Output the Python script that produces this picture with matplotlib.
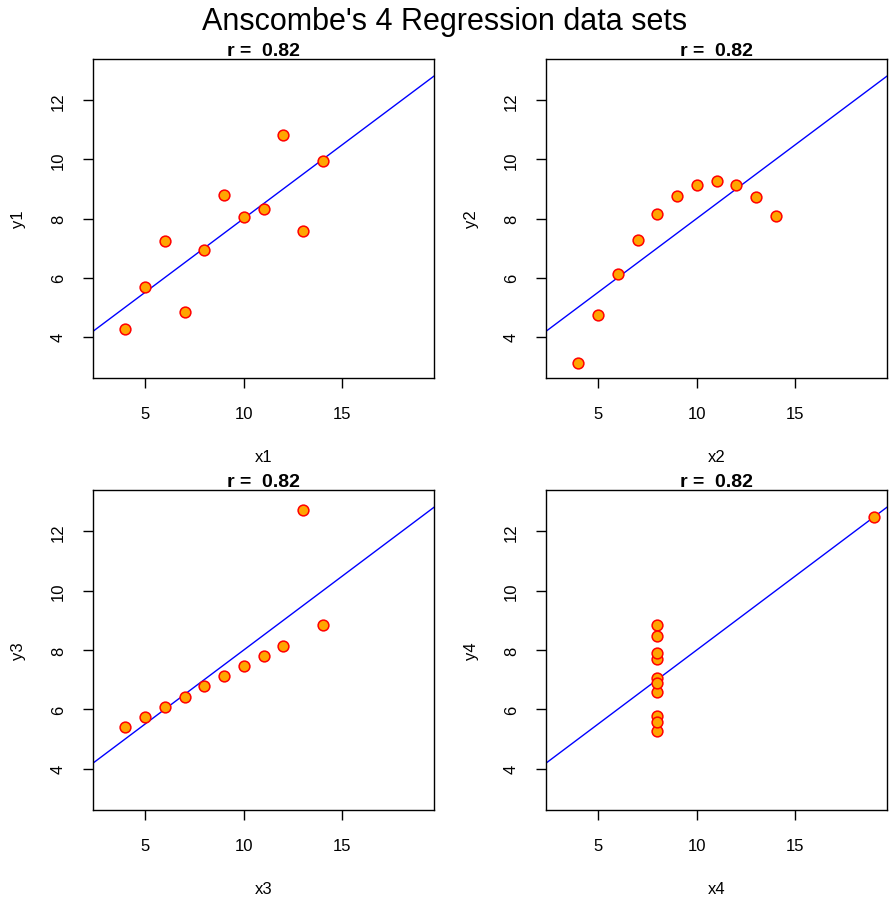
import numpy as np
import matplotlib
matplotlib.use("Agg")
import matplotlib.pyplot as plt

plt.rcParams['font.family'] = ['Liberation Sans', 'DejaVu Sans']

# Anscombe's quartet
x1 = [10, 8, 13, 9, 11, 14, 6, 4, 12, 7, 5]
x2 = [10, 8, 13, 9, 11, 14, 6, 4, 12, 7, 5]
x3 = [10, 8, 13, 9, 11, 14, 6, 4, 12, 7, 5]
x4 = [8, 8, 8, 8, 8, 8, 8, 19, 8, 8, 8]
y1 = [8.04, 6.95, 7.58, 8.81, 8.33, 9.96, 7.24, 4.26, 10.84, 4.82, 5.68]
y2 = [9.14, 8.14, 8.74, 8.77, 9.26, 8.10, 6.13, 3.10, 9.13, 7.26, 4.74]
y3 = [7.46, 6.77, 12.74, 7.11, 7.81, 8.84, 6.08, 5.39, 8.15, 6.42, 5.73]
y4 = [6.58, 5.76, 7.71, 8.84, 8.47, 7.04, 5.25, 12.50, 5.56, 7.91, 6.89]

xs = [x1, x2, x3, x4]
ys = [y1, y2, y3, y4]
xnames = ["x1", "x2", "x3", "x4"]
ynames = ["y1", "y2", "y3", "y4"]
xticks = [5, 10, 15]
yticks = [4, 6, 8, 10, 12]
xlim = (3, 19)
ylim = (3, 13)

W, H = 890, 903
fig = plt.figure(figsize=(W / 100, H / 100), dpi=100)

# panel boxes in pixels: (left, top, right, bottom)
boxes = [(93, 60, 434, 379), (546, 60, 887, 379),
         (93, 491, 434, 811), (546, 491, 887, 811)]

def ext(lo, hi):
    d = (hi - lo) * 0.04
    return lo - d, hi + d

for i in range(4):
    l, t, r, b = boxes[i]
    ax = fig.add_axes([l / W, 1 - b / H, (r - l) / W, (b - t) / H])
    x = np.array(xs[i], dtype=float)
    y = np.array(ys[i], dtype=float)
    slope, icpt = np.polyfit(x, y, 1)
    rcoef = np.corrcoef(x, y)[0, 1]
    ax.set_xlim(*ext(*xlim))
    ax.set_ylim(*ext(*ylim))
    ax.axline((0, icpt), slope=slope, color="#0000ff", lw=1.0, zorder=2)
    ax.scatter(x, y, s=60, facecolor="#ffa500", edgecolor="#ff0000",
               linewidths=1.1, zorder=3)
    ax.set_xticks(xticks)
    ax.set_yticks(yticks)
    ax.set_xticklabels([str(v) for v in xticks], fontsize=12)
    ax.set_yticklabels([str(v) for v in yticks], fontsize=12,
                       rotation=90, va="center")
    ax.tick_params(axis="x", direction="out", length=7.5, width=1, pad=12.5,
                   color="black")
    ax.tick_params(axis="y", direction="out", length=7.5, width=1, pad=12,
                   color="black")
    for s in ax.spines.values():
        s.set_linewidth(1.0)
        s.set_color("black")
    ax.set_xlabel(xnames[i], fontsize=12, labelpad=20)
    ax.set_ylabel(ynames[i], fontsize=12, labelpad=18)
    ax.set_title(f"r =  {rcoef:.2f}", fontsize=14, fontweight="bold", pad=3)

fig.text(0.5, 1 - 22 / H, "Anscombe's 4 Regression data sets",
         ha="center", va="center", fontsize=22)

fig.savefig("out.png", dpi=100)
